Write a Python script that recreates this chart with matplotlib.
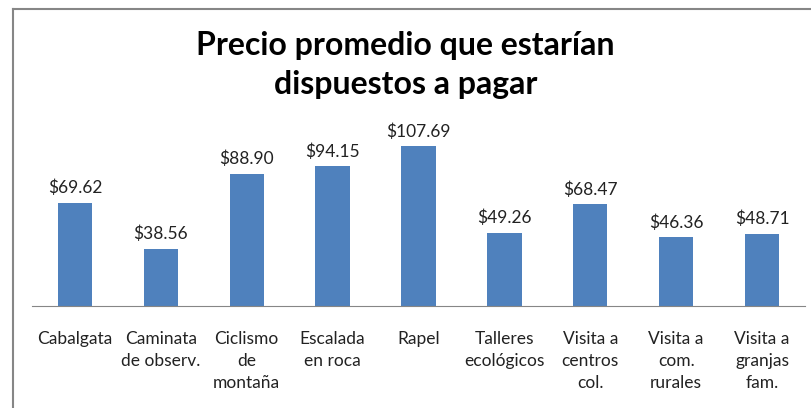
import matplotlib.pyplot as plt
from matplotlib.lines import Line2D

categorias = ['Cabalgata', 'Caminata\nde observ.', 'Ciclismo\nde\nmontaña',
              'Escalada\nen roca', 'Rapel', 'Talleres\necológicos',
              'Visita a\ncentros\ncol.', 'Visita a\ncom.\nrurales',
              'Visita a\ngranjas\nfam.']
precios = [69.62, 38.56, 88.90, 94.15, 107.69, 49.26, 68.47, 46.36, 48.71]
etiquetas = ['$69.62', '$38.56', '$88.90', '$94.15', '$107.69', '$49.26',
             '$68.47', '$46.36', '$48.71']

W, H = 811, 408
fig = plt.figure(figsize=(W / 100, H / 100), dpi=100)
fig.patch.set_facecolor('white')

# chart frame, only left and top edges are visible
fx, fy = 12.5 / W, 1 - 8.5 / H
fig.add_artist(Line2D([fx, fx], [0, fy], transform=fig.transFigure,
                      color='#868686', linewidth=1.5))
fig.add_artist(Line2D([fx, 1], [fy, fy], transform=fig.transFigure,
                      color='#868686', linewidth=1.5))

ax = fig.add_axes([32 / W, 1 - 306 / H, (805 - 32) / W, (306 - 128) / H])
x = range(len(categorias))
ax.bar(x, precios, width=0.4, color='#4F81BD')
ax.set_xlim(-0.5, len(categorias) - 0.5)
ax.set_ylim(0, 120)

for xi, v, t in zip(x, precios, etiquetas):
    ax.text(xi, v + 4.5, t, ha='center', va='bottom', fontsize=12.5,
            family='Lato', color='#222222')

for s in ['top', 'right', 'left']:
    ax.spines[s].set_visible(False)
ax.spines['bottom'].set_color('#868686')
ax.set_yticks([])
ax.set_xticks(list(x))
ax.set_xticklabels(categorias, fontsize=12.5, family='Lato', linespacing=1.45,
                   va='top', color='#222222')
ax.tick_params(axis='x', length=0, pad=18)

fig.text(0.5, 1 - 65 / H, 'Precio promedio que estarían\ndispuestos a pagar',
         ha='center', va='center', fontsize=23, fontweight='bold',
         family='Lato', linespacing=1.42)

fig.savefig('out.png', dpi=100)
